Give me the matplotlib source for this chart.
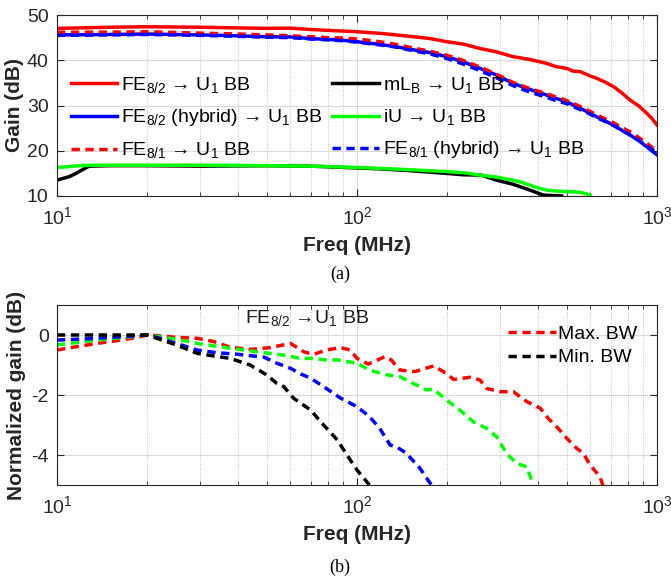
import matplotlib
matplotlib.use('Agg')
import matplotlib.pyplot as plt
from matplotlib.ticker import LogLocator, NullFormatter, FixedLocator

plt.rcParams['font.family'] = ['Liberation Sans', 'DejaVu Sans']
plt.rcParams['mathtext.fontset'] = 'custom'
plt.rcParams['mathtext.rm'] = 'Liberation Sans'
plt.rcParams['mathtext.it'] = 'Liberation Sans:italic'
plt.rcParams['mathtext.bf'] = 'Liberation Sans:bold'
plt.rcParams['axes.unicode_minus'] = False

# ---- (a) gain vs frequency ----
f_fe82 = [10, 12, 15, 20, 30, 40, 50, 60, 70, 80, 90, 100, 119, 135, 154, 175, 199, 225,
          257, 290, 331, 375, 429, 460, 500, 525, 554, 590, 630, 670, 715, 760, 813, 870,
          924, 960, 1000]
g_fe82 = [47.05, 47.15, 47.3, 47.4, 47.3, 47.15, 47.05, 47.1, 46.8, 46.6, 46.45, 46.3, 45.95,
          45.6, 45.2, 44.8, 44.1, 43.6, 42.6, 41.9, 40.8, 40.2, 39.3, 38.6, 38.2, 37.6, 37.5,
          36.7, 36.0, 35.2, 34.2, 32.9, 31.2, 29.9, 28.3, 27.2, 25.7]

f_hyb = [10, 15, 20, 30, 40, 50, 60, 70, 80, 90, 100, 119, 135, 154, 175, 199, 225, 257, 290,
         331, 375, 429, 460, 500, 554, 590, 630, 670, 715, 760, 813, 870, 924, 960, 1000]
g_fe82_hyb = [45.6, 45.7, 45.8, 45.6, 45.4, 45.2, 45.15, 44.8, 44.6, 44.4, 44.1, 43.5, 43.0,
              42.3, 41.7, 40.8, 39.7, 38.2, 36.8, 34.9, 33.6, 32.3, 31.6, 30.8, 29.4, 28.5,
              27.5, 26.6, 25.7, 24.6, 23.5, 22.2, 20.9, 20.0, 19.1]
g_fe81 = [46.2, 46.2, 46.3, 46.0, 45.8, 45.6, 45.4, 45.2, 45.0, 44.9, 44.7, 44.1, 43.5, 42.7,
          42.0, 41.1, 40.0, 38.5, 37.0, 35.1, 33.8, 32.6, 31.9, 31.1, 29.8, 28.9, 27.9, 27.1,
          26.2, 25.2, 24.2, 22.9, 21.7, 20.8, 20.0]
g_fe81_hyb = [45.5, 45.6, 45.7, 45.5, 45.3, 45.1, 45.0, 44.7, 44.5, 44.3, 44.0, 43.4, 42.9,
              42.1, 41.4, 40.4, 39.2, 37.7, 36.2, 34.4, 33.0, 31.8, 31.1, 30.4, 29.1, 28.3,
              27.3, 26.5, 25.6, 24.6, 23.5, 22.3, 21.1, 20.3, 19.5]

f_iu = [10, 11, 12, 13, 15, 20, 30, 50, 70, 100, 119, 150, 199, 230, 257, 290, 331, 355, 377,
        400, 429, 460, 500, 554, 580, 598]
g_iu = [16.3, 16.5, 16.7, 16.8, 16.8, 16.8, 16.8, 16.7, 16.6, 16.3, 16.1, 15.8, 15.4, 15.1,
        14.6, 14.2, 13.5, 13.0, 12.4, 11.8, 11.3, 11.1, 11.0, 10.8, 10.5, 10.2]

f_mlb = [10, 11, 11.5, 12, 12.8, 15, 20, 30, 50, 70, 100, 119, 150, 199, 225, 260, 292, 331,
         377, 418, 450, 481]
g_mlb = [13.5, 14.3, 14.9, 15.6, 16.6, 16.7, 16.7, 16.6, 16.7, 16.6, 16.2, 16.0, 15.6, 15.0,
         14.7, 14.6, 13.5, 12.6, 11.3, 10.2, 10.1, 10.0]

# ---- (b) normalized gain ----
f_max = [10, 11.6, 13.6, 15.8, 18.5, 20, 21.5, 25, 29.3, 33.3, 37.8, 44, 51.4, 60, 66.5, 71.5,
         79, 88, 95, 100, 109, 124, 130, 139, 156, 180, 194, 210, 238, 257, 270, 300, 332,
         368, 408, 434, 468, 500, 540, 568, 598, 645, 663]
n_max = [-0.5, -0.39, -0.28, -0.19, -0.08, 0, -0.02, -0.08, -0.11, -0.22, -0.41, -0.48, -0.42,
         -0.28, -0.56, -0.65, -0.5, -0.42, -0.5, -0.78, -0.97, -0.72, -0.83, -1.17, -1.22,
         -1.03, -1.22, -1.48, -1.41, -1.5, -1.78, -1.89, -1.89, -2.22, -2.44, -2.78, -3.11,
         -3.44, -3.78, -3.94, -4.33, -4.72, -5.06]

f_grn = [10, 13.6, 20, 25, 29.3, 37.8, 46.4, 57, 64.6, 70, 79, 86, 100, 110, 126, 139, 158,
         170, 180, 199, 220, 244, 270, 292, 315, 340, 368, 387]
n_grn = [-0.33, -0.17, 0, -0.14, -0.28, -0.44, -0.56, -0.67, -0.78, -0.78, -0.83, -0.83,
         -0.94, -1.17, -1.33, -1.39, -1.67, -1.83, -1.81, -2.17, -2.5, -2.89, -3.11, -3.39,
         -3.94, -4.28, -4.39, -5.0]

f_blu = [10, 13.6, 20, 21.5, 25, 29.3, 34, 39.8, 49, 54, 60, 65, 70, 77.4, 88, 100, 110, 119,
         129, 136, 146, 162, 177]
n_blu = [-0.17, -0.11, 0, -0.08, -0.28, -0.5, -0.59, -0.64, -0.74, -0.94, -1.11, -1.3, -1.44,
         -1.72, -2.1, -2.39, -2.72, -3.11, -3.67, -3.74, -3.94, -4.44, -5.0]

f_min = [10, 13.6, 20, 21.5, 25, 29.3, 33.3, 37.8, 44, 50, 54, 57, 61.5, 70, 77.4, 86, 92.6,
         100, 110]
n_min = [0, 0, 0, -0.11, -0.33, -0.61, -0.7, -0.78, -1.0, -1.33, -1.61, -1.72, -2.11, -2.5,
         -3.0, -3.5, -4.0, -4.5, -5.0]

LW = 2.5
DASH = (2.4, 1.6)
AX_COLOR = '0.15'


def style_axes(ax, yticks):
    ax.set_xscale('log')
    ax.set_xlim(10, 1000)
    ax.xaxis.set_major_locator(LogLocator(base=10))
    ax.xaxis.set_minor_locator(LogLocator(base=10, subs=range(2, 10)))
    ax.xaxis.set_minor_formatter(NullFormatter())
    ax.yaxis.set_major_locator(FixedLocator(yticks))
    ax.grid(True, which='major', color='0.85', lw=0.8, ls='-')
    ax.grid(True, which='minor', axis='x', color='0.75', lw=0.7, ls=':')
    ax.set_axisbelow(True)
    ax.tick_params(which='both', direction='in', top=True, right=True,
                   colors=AX_COLOR, labelcolor='0.15', labelsize=14)
    ax.tick_params(which='major', length=5, width=0.8)
    ax.tick_params(axis='x', which='major', pad=7)
    ax.tick_params(axis='y', which='major', pad=6)
    ax.tick_params(which='minor', length=3, width=0.6)
    for s in ax.spines.values():
        s.set_color(AX_COLOR)
        s.set_linewidth(0.8)


fig = plt.figure(figsize=(6.71, 5.80), dpi=100)

# panel (a)
ax1 = fig.add_axes([57 / 671, 1 - 196 / 580, 600 / 671, 181 / 580])
ax1.plot(f_fe82, g_fe82, color='#ff0000', lw=LW, label=r'FE$_{8/2}$ → U$_1$ BB')
ax1.plot(f_hyb, g_fe82_hyb, color='#0000ff', lw=LW, label=r'FE$_{8/2}$ (hybrid) → U$_1$ BB')
ax1.plot(f_hyb, g_fe81, color='#ff0000', lw=LW, ls='--', dashes=DASH,
         label=r'FE$_{8/1}$ → U$_1$ BB')
ax1.plot(f_mlb, g_mlb, color='black', lw=LW, label=r'mL$_\mathrm{B}$ → U$_1$ BB')
ax1.plot(f_iu, g_iu, color='#00ff00', lw=LW, label=r'iU → U$_1$ BB')
ax1.plot(f_hyb, g_fe81_hyb, color='#0000ff', lw=LW, ls='--', dashes=DASH,
         label=r'FE$_{8/1}$ (hybrid) → U$_1$ BB')
ax1.set_ylim(10, 50)
style_axes(ax1, [10, 20, 30, 40, 50])
ax1.set_ylabel('Gain (dB)', fontsize=15, fontweight='bold', color='0.15')
ax1.yaxis.set_label_coords(-0.055, 0.5)
ax1.set_xlabel('Freq (MHz)', fontsize=15, fontweight='bold', color='0.15', labelpad=6)
ax1.legend(ncol=2, loc='upper left', bbox_to_anchor=(0.01, 0.71), frameon=False,
           fontsize=14, handlelength=2.4, handletextpad=0.2, columnspacing=0.5,
           labelspacing=0.62, borderaxespad=0)

# panel (b)
ax2 = fig.add_axes([57 / 671, 1 - 485 / 580, 600 / 671, 180 / 580])
ax2.plot(f_max, n_max, color='#ff0000', lw=LW, ls='--', dashes=DASH, label='Max. BW')
ax2.plot(f_grn, n_grn, color='#00ff00', lw=LW, ls='--', dashes=DASH)
ax2.plot(f_blu, n_blu, color='#0000ff', lw=LW, ls='--', dashes=DASH)
ax2.plot(f_min, n_min, color='black', lw=LW, ls='--', dashes=DASH, label='Min. BW')
ax2.set_ylim(-5, 1)
style_axes(ax2, [-4, -2, 0])
ax2.set_ylabel('Normalized gain (dB)', fontsize=15, fontweight='bold', color='0.15')
ax2.yaxis.set_label_coords(-0.052, 0.5)
ax2.set_xlabel('Freq (MHz)', fontsize=15, fontweight='bold', color='0.15', labelpad=6)
ax2.text(0.313, 0.93, r'FE$_{8/2}$ →U$_1$ BB', transform=ax2.transAxes, fontsize=14,
         va='center', ha='left', color='0.1')
ax2.legend(loc='upper right', bbox_to_anchor=(0.98, 0.93), frameon=False, fontsize=14,
           handlelength=2.5, handletextpad=0.1, labelspacing=0.3, borderaxespad=0)

fig.text(340 / 671, 1 - 274 / 580, '(a)', family='Liberation Serif', fontsize=13,
         ha='center', va='center')
fig.text(340 / 671, 1 - 567 / 580, '(b)', family='Liberation Serif', fontsize=13,
         ha='center', va='center')

fig.savefig('out.png', dpi=100)
